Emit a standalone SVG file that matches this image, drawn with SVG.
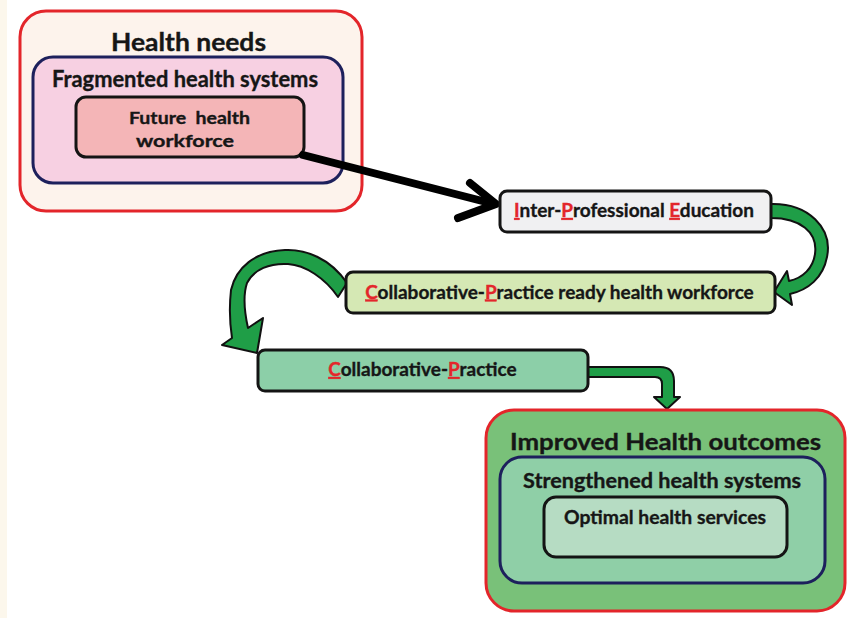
<svg xmlns="http://www.w3.org/2000/svg" width="849" height="618" viewBox="0 0 849 618">
<style>
.t{font-family:Lato,"Liberation Sans",Arial,sans-serif;font-weight:bold;fill:#161616;stroke:#161616;stroke-width:0.35;text-anchor:middle}
.r{fill:#e3262b;stroke:#e3262b;text-decoration:underline}
.red{stroke:#e3252a;stroke-width:3}
.navy{stroke:#1d205c;stroke-width:3}
.blk{stroke:#141414;stroke-width:3}
.garr{fill:#1f9e47;stroke:#111;stroke-width:2;stroke-linejoin:round}
</style>
<rect x="0" y="0" width="849" height="618" fill="#ffffff"/>
<rect x="0" y="0" width="7" height="618" fill="#fcf7ec"/>

<g id="health-needs">
<rect x="20" y="11" width="342" height="200" rx="26" fill="#fdf3ec" class="red"/>
<text class="t" x="188.5" y="50.5" font-size="24" textLength="155" lengthAdjust="spacingAndGlyphs">Health needs</text>
</g>
<g id="fragmented">
<rect x="33" y="57" width="310" height="126" rx="20" fill="#f7d0e2" class="navy"/>
<text class="t" x="185" y="87" font-size="22" textLength="266" lengthAdjust="spacingAndGlyphs">Fragmented health systems</text>
</g>
<g id="future-workforce">
<rect x="76" y="97" width="228" height="60" rx="10" fill="#f4b5b7" class="blk"/>
<text class="t" x="189.5" y="124" font-size="17" textLength="121" lengthAdjust="spacingAndGlyphs" xml:space="preserve">Future  health</text>
<text class="t" x="185" y="147" font-size="17" textLength="98" lengthAdjust="spacingAndGlyphs">workforce</text>
</g>

<g id="connectors">
<path d="M303,155 L494,204" fill="none" stroke="#000" stroke-width="8" stroke-linecap="round"/>
<path d="M470,183 L496,204 L458,218" fill="none" stroke="#000" stroke-width="8" stroke-linecap="round" stroke-linejoin="round"/>
<path class="garr" d="M771,204 C808,203 833,228 827,257 C823,278 808,290 790,294 L792,305 L774,292 L787,271 L789,281 C803,278 813,268 815,254 C818,232 800,218 771,218 Z"/>
<path class="garr" d="M347,283 C330,258 305,249 285,250 C255,251 236,268 231,290 C229,308 230,325 232,338 L222,345 L257,353 L263,318 L248,328 C244,310 243,295 247,283 C254,269 270,263 288,264 C305,265 325,278 338,297 Z"/>
<path class="garr" d="M588,367 L660,367 Q674,367 674,381 L674,397 L680,397 L667,409 L654,397 L662,397 L662,384 Q662,377 655,377 L588,377 Z"/>
</g>

<g id="ipe">
<rect x="500" y="191" width="271" height="41" rx="7" fill="#f0f0f2" class="blk"/>
<text class="t" x="634" y="217" font-size="19"><tspan class="r">I</tspan>nter-<tspan class="r">P</tspan>rofessional <tspan class="r">E</tspan>ducation</text>
</g>
<g id="cp-ready">
<rect x="346" y="272" width="429" height="41" rx="7" fill="#d5e8b4" class="blk"/>
<text class="t" x="559.5" y="298.5" font-size="19"><tspan class="r">C</tspan>ollaborative-<tspan class="r">P</tspan>ractice ready health workforce</text>
</g>
<g id="cp">
<rect x="258" y="350" width="330" height="41" rx="7" fill="#8ccfa8" class="blk"/>
<text class="t" x="422.5" y="376" font-size="19"><tspan class="r">C</tspan>ollaborative-<tspan class="r">P</tspan>ractice</text>
</g>

<g id="improved-outcomes">
<rect x="486" y="410" width="359" height="201" rx="28" fill="#79c179" class="red"/>
<text class="t" x="665.5" y="450" font-size="23" textLength="311" lengthAdjust="spacingAndGlyphs">Improved Health outcomes</text>
</g>
<g id="strengthened">
<rect x="500" y="457" width="325" height="126" rx="22" fill="#8fcfa7" class="navy"/>
<text class="t" x="662" y="488" font-size="20" textLength="278" lengthAdjust="spacingAndGlyphs">Strengthened health systems</text>
</g>
<g id="optimal">
<rect x="544" y="497" width="243" height="60" rx="12" fill="#b6dcc3" class="blk"/>
<text class="t" x="665" y="524" font-size="19.5" textLength="202" lengthAdjust="spacingAndGlyphs">Optimal health services</text>
</g>
</svg>
